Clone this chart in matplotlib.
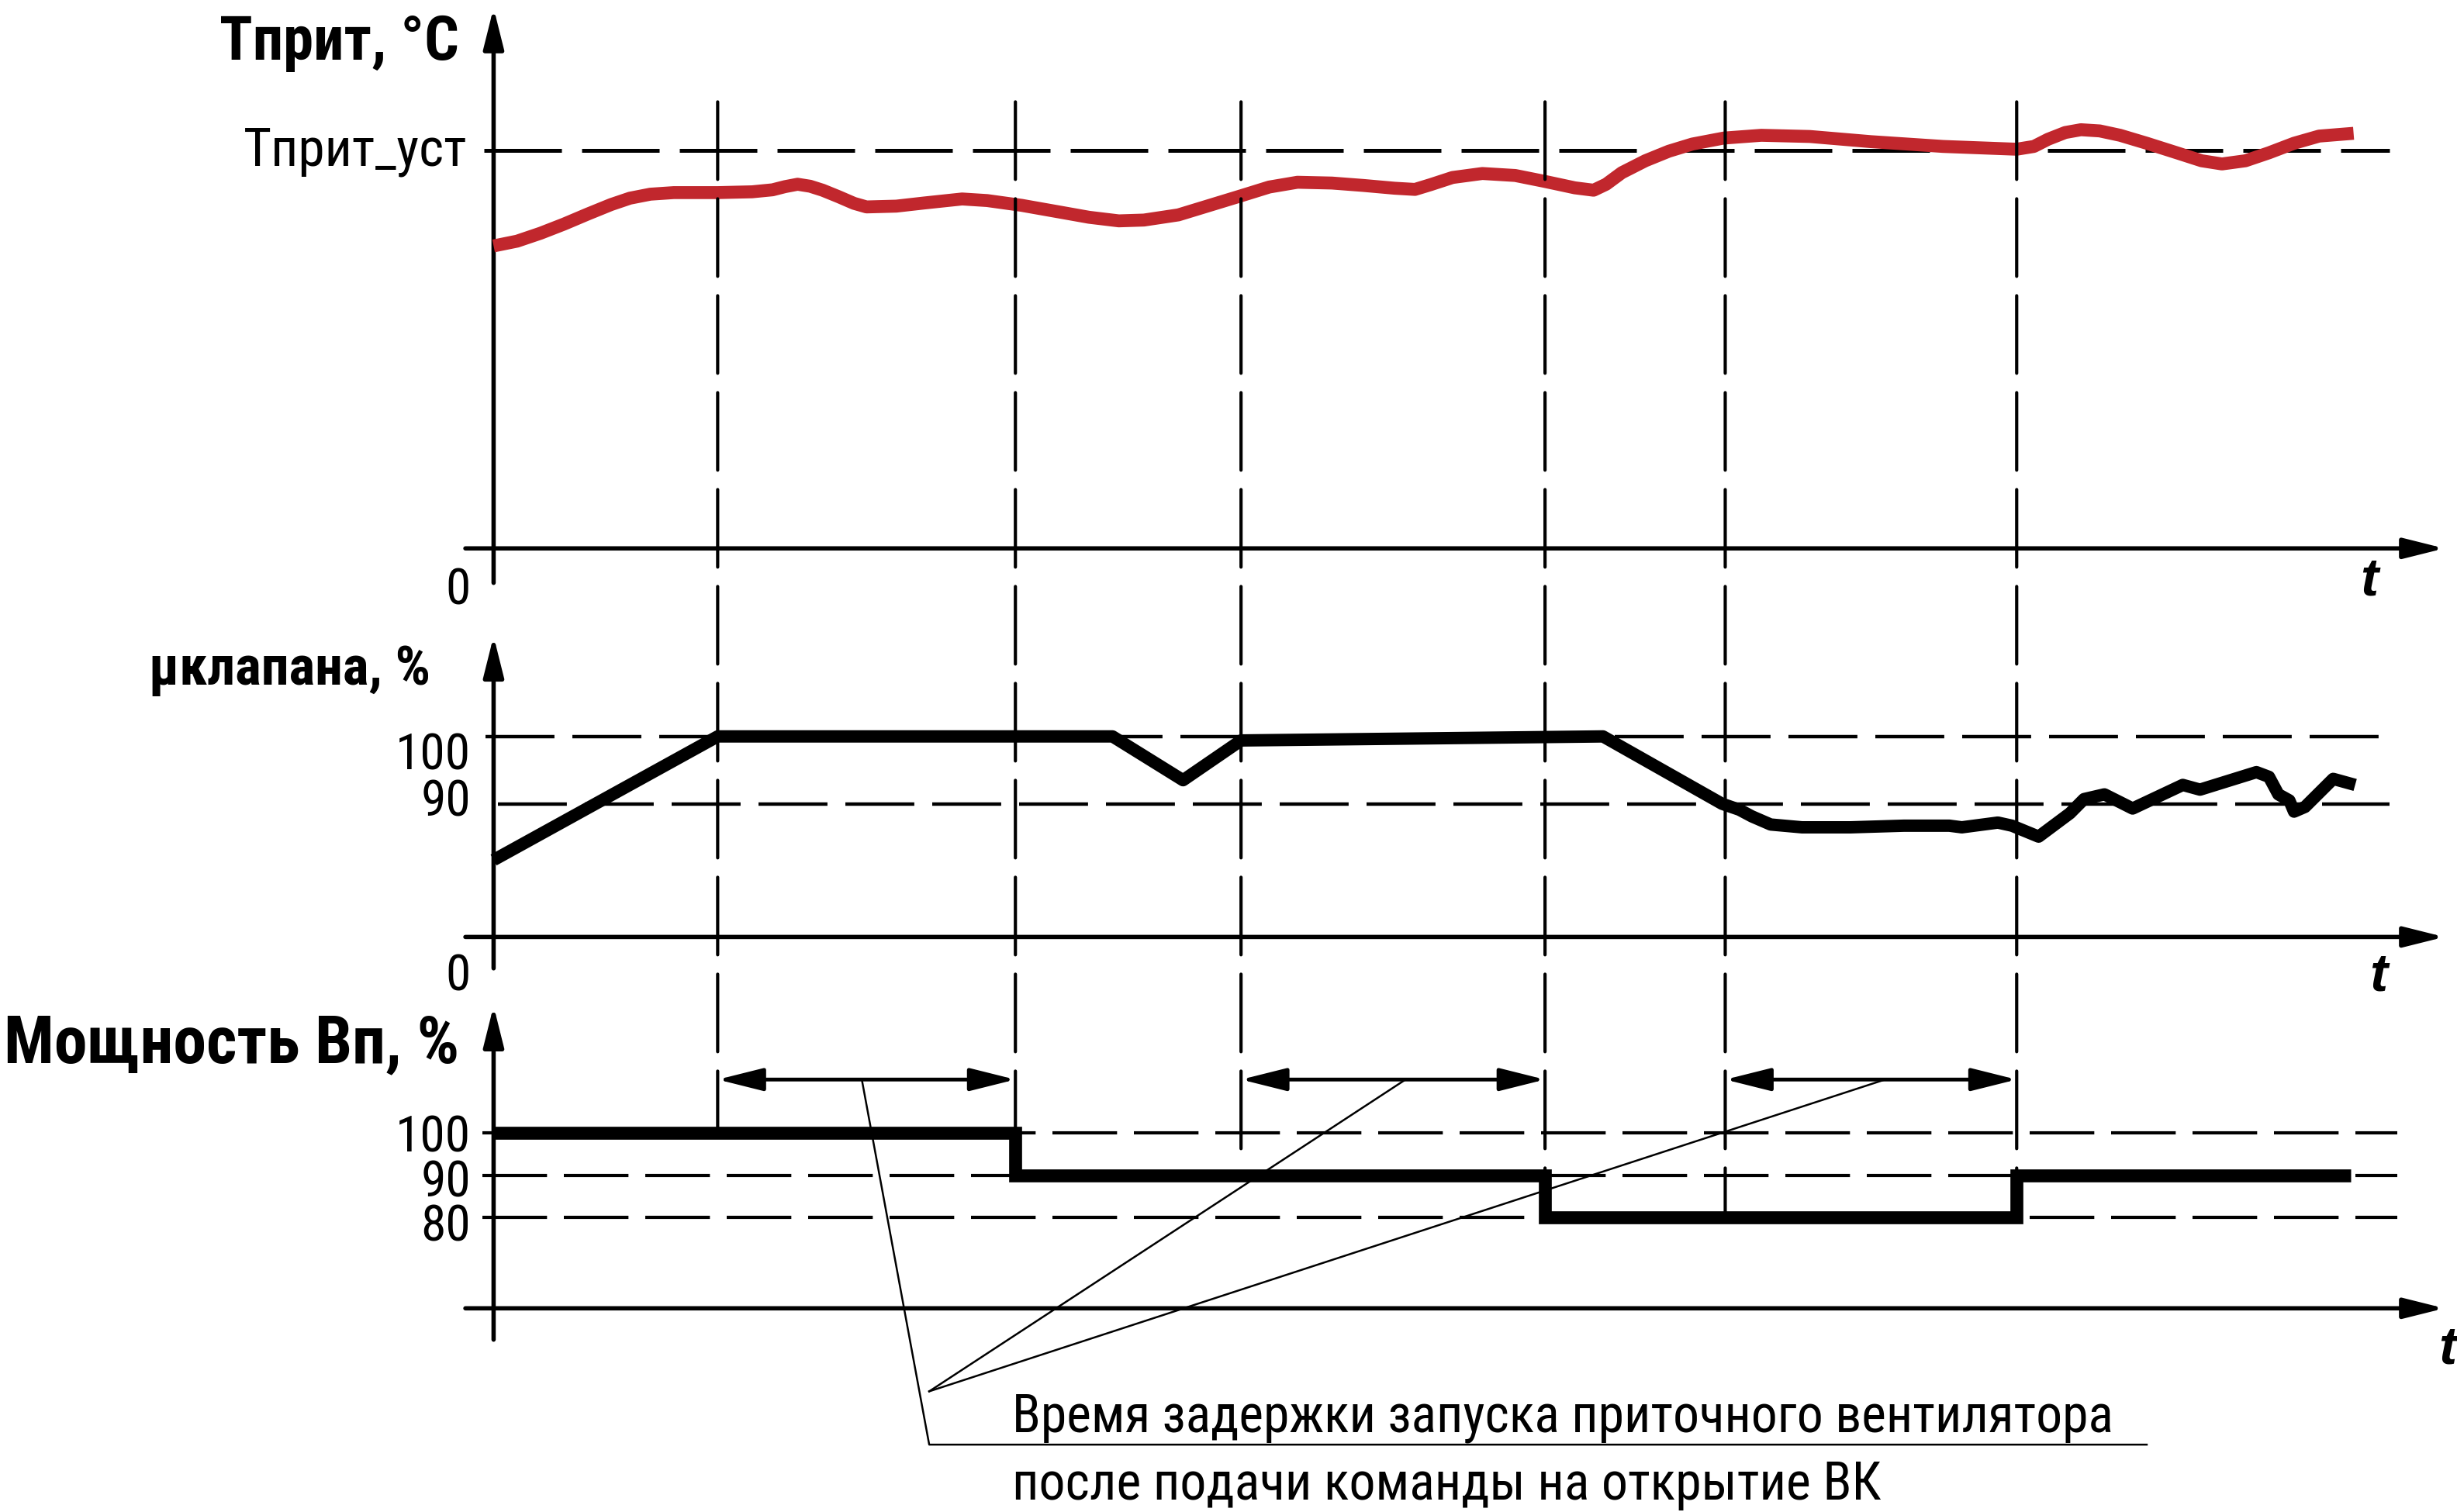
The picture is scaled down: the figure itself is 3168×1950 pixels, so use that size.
import numpy as np
import matplotlib
matplotlib.use('Agg')
import matplotlib.pyplot as plt
from matplotlib.patches import ConnectionPatch
from matplotlib.lines import Line2D

plt.rcParams['font.family'] = ['Roboto Condensed', 'Liberation Sans', 'DejaVu Sans']

# --- data (time in arbitrary units) ---
events = [14.3, 33.3, 47.7, 67.1, 78.6, 97.2]
delay_spans = [(events[0], events[1]), (events[2], events[3]), (events[4], events[5])]

temp_set = 1.0
t_temp = [0.0, 1.5, 3.0, 4.5, 6.0, 7.5, 8.7, 10.0, 11.5, 14.3, 16.5, 17.8, 18.6, 19.4,
          20.2, 21.0, 22.0, 23.0, 23.8, 25.7, 27.5, 29.9, 31.5, 33.7, 36.0, 38.0, 39.9,
          41.5, 43.7, 45.7, 47.7, 49.5, 51.3, 53.5, 55.5, 57.5, 58.8, 59.8, 61.2, 63.1,
          65.2, 67.1, 69.0, 70.2, 71.0, 72.0, 73.5, 75.0, 76.5, 78.5, 80.9, 84.0, 87.9,
          92.5, 97.2, 98.3, 99.2, 100.3, 101.3, 102.5, 103.8, 105.5, 107.5, 109.0, 110.3,
          111.8, 113.3, 114.9, 116.5, 118.7]
temp = [0.760, 0.772, 0.792, 0.815, 0.840, 0.864, 0.880, 0.890, 0.894, 0.894, 0.896, 0.901,
        0.909, 0.915, 0.910, 0.900, 0.884, 0.867, 0.858, 0.860, 0.868, 0.878, 0.874, 0.862,
        0.846, 0.832, 0.823, 0.825, 0.838, 0.862, 0.886, 0.908, 0.920, 0.918, 0.912, 0.905,
        0.902, 0.914, 0.932, 0.942, 0.937, 0.922, 0.906, 0.900, 0.915, 0.944, 0.974, 0.998,
        1.016, 1.031, 1.038, 1.035, 1.022, 1.010, 1.003, 1.010, 1.028, 1.045, 1.052, 1.049,
        1.038, 1.018, 0.993, 0.974, 0.966, 0.974, 0.994, 1.018, 1.036, 1.043]

valve_levels = [100, 90]
t_valve = [0.0, 14.3, 39.5, 44.0, 47.7, 70.8, 78.4, 79.5, 80.3, 81.5, 83.5, 86.6, 90.0,
           92.9, 93.7, 96.0, 96.9, 98.6, 100.6, 101.5, 102.8, 104.0, 104.6, 107.8, 108.9,
           112.5, 113.3, 113.9, 114.6, 114.9, 115.6, 117.4, 118.8]
valve = [52, 100, 100, 93.5, 99.4, 100, 90, 86.0, 81.5, 76.0, 74.1, 74.1, 75.2,
         75.2, 74.1, 77.3, 75.2, 67.8, 83.6, 90.7, 91.4, 90.0, 86.8, 92.8, 92.1,
         94.7, 94.0, 91.4, 90.5, 84.7, 87.9, 93.7, 92.8]

power_levels = [100, 90, 80]
t_power = [0.0, events[1], events[3], events[5], 118.5]
power = [100, 90, 80, 90, 90]

RED = '#C1272D'


def piecewise(vals, pos):
    vals = np.asarray(vals, float)
    pos = np.asarray(pos, float)

    def make(a, b):
        def f(v):
            v = np.asarray(v, float)
            lo = b[0] + (v - a[0]) * (b[1] - b[0]) / (a[1] - a[0])
            hi = b[-1] + (v - a[-1]) * (b[-1] - b[-2]) / (a[-1] - a[-2])
            return np.where(v < a[0], lo, np.where(v > a[-1], hi, np.interp(v, a, b)))
        return f
    return make(vals, pos), make(pos, vals)


valve_fns = piecewise([0, 90, 100], [0, 85, 128])
power_fns = piecewise([0, 80, 100], [0, 58, 112])

W, H = 1568.0, 965.0
SCALE = 3168 / W


def fx(x):
    return x / W


def fy(y):
    return 1 - y / H


fig = plt.figure(figsize=(31.68, 19.5), dpi=100)
renderer = fig.canvas.get_renderer()
TMAX = 124.5

ax_T = fig.add_axes([fx(315), fy(350), fx(1560) - fx(315), fy(5) - fy(350)])
ax_V = fig.add_axes([fx(315), fy(598), fx(1560) - fx(315), fy(406) - fy(598)])
ax_P = fig.add_axes([fx(315), fy(835), fx(1560) - fx(315), fy(642) - fy(835)])

ax_T.set_ylim(0, 345 / 254)
ax_V.set_yscale('function', functions=valve_fns)
ax_V.set_ylim(0, valve_fns[1](192))
ax_P.set_yscale('function', functions=power_fns)
ax_P.set_ylim(0, power_fns[1](193))
for ax in (ax_T, ax_V, ax_P):
    ax.set_xlim(0, TMAX)
    ax.axis('off')

axis_arrow = dict(arrowstyle='-|>,head_length=32,head_width=8', mutation_scale=1,
                  lw=4, color='black', shrinkA=0, shrinkB=0)


def draw_axes(ax, ybottom):
    ax.annotate('', xy=(TMAX, 0), xytext=(-1.8, 0), arrowprops=axis_arrow,
                annotation_clip=False)
    ax.annotate('', xy=(0, ax.get_ylim()[1]), xytext=(0, ybottom), arrowprops=axis_arrow,
                annotation_clip=False)


draw_axes(ax_T, -22 / 254)
draw_axes(ax_V, valve_fns[1](-20))
draw_axes(ax_P, power_fns[1](-20))

hdash = (0, (20, 5.2))
ax_T.plot([-0.6, 121], [temp_set, temp_set], color='black', lw=3.6, ls=hdash, clip_on=False)
for lv, x0 in zip(valve_levels, [-0.5, 0.3]):
    ax_V.plot([x0, 121], [lv, lv], color='black', lw=3.2, ls=hdash, clip_on=False)
for lv in power_levels:
    ax_P.plot([-0.7, 121.5], [lv, lv], color='black', lw=3.0, ls=hdash, clip_on=False)

# vertical event lines crossing all three panels
event_ends = [100, 100, 96, 80, 80, 80]
for t, yend in zip(events, event_ends):
    cp = ConnectionPatch(xyA=(t, 1.122), coordsA=ax_T.transData,
                         xyB=(t, yend), coordsB=ax_P.transData,
                         color='black', lw=3, ls=(0, (24, 6)))
    fig.add_artist(cp)

ax_T.plot(t_temp, temp, color=RED, lw=12, solid_joinstyle='round',
          solid_capstyle='butt', clip_on=False, zorder=5)
ax_V.plot(t_valve, valve, color='black', lw=11.5, solid_joinstyle='round',
          solid_capstyle='butt', clip_on=False, zorder=5)
ax_P.plot(t_power, power, color='black', lw=12, drawstyle='steps-post',
          solid_joinstyle='miter', solid_capstyle='butt', clip_on=False, zorder=5)

# delay arrows
arrow_y = power_fns[1](146)
for a, b in delay_spans:
    ax_P.annotate('', xy=(b, arrow_y), xytext=(a, arrow_y), annotation_clip=False,
                  arrowprops=dict(arrowstyle='<|-|>,head_length=36,head_width=9',
                                  mutation_scale=1, lw=3.5, color='black',
                                  shrinkA=0, shrinkB=0))

# leader lines to the note
inv_fig = fig.transFigure.inverted()
starts = [inv_fig.transform(ax_P.transData.transform((t, arrow_y)))
          for t in (23.5, 58.2, 88.8)]
corner = (fx(593), fy(888))
foot = (fx(593), fy(922))
fig.add_artist(Line2D([starts[0][0], foot[0], fx(1370)], [starts[0][1], foot[1], foot[1]],
                      transform=fig.transFigure, color='black', lw=1.8))
for s in starts[1:]:
    fig.add_artist(Line2D([s[0], corner[0]], [s[1], corner[1]],
                          transform=fig.transFigure, color='black', lw=1.8))


def fit_text(x, y, s, width, ha='left', size0=50, **kw):
    t = fig.text(fx(x), fy(y), s, fontsize=size0, ha=ha, va='baseline', **kw)
    w = t.get_window_extent(renderer).width
    t.set_fontsize(size0 * width * SCALE / w)
    return t


fit_text(646, 914, 'Время задержки запуска приточного вентилятора', 704)
fit_text(646, 957, 'после подачи команды на открытие ВК', 556)

# axis titles and labels
fit_text(293, 38, 'Тприт, °C', 153, ha='right', fontweight='bold')
fit_text(298, 105.6, 'Тприт_уст', 143, ha='right')
fit_text(275, 437, 'μклапана, %', 180, ha='right', fontweight='bold')
fit_text(293, 678, 'Мощность Вп, %', 291, ha='right', fontweight='bold')

tick_size = fit_text(300.5, 491, '100', 48, ha='right').get_fontsize()
tick_labels = [('0', 386), ('90', 521), ('0', 632),
               ('100', 735), ('90', 763.7), ('80', 792)]
for lab, yb in tick_labels:
    fig.text(fx(300.5), fy(yb), lab, fontsize=tick_size, ha='right', va='baseline')

for xc, yb in [(1512, 380), (1518, 632), (1562, 870)]:
    fig.text(fx(xc), fy(yb), 't', fontsize=50, fontweight='bold', fontstyle='italic',
             family=['Liberation Sans', 'DejaVu Sans'], ha='center', va='baseline')

fig.savefig('out.png', dpi=100)
